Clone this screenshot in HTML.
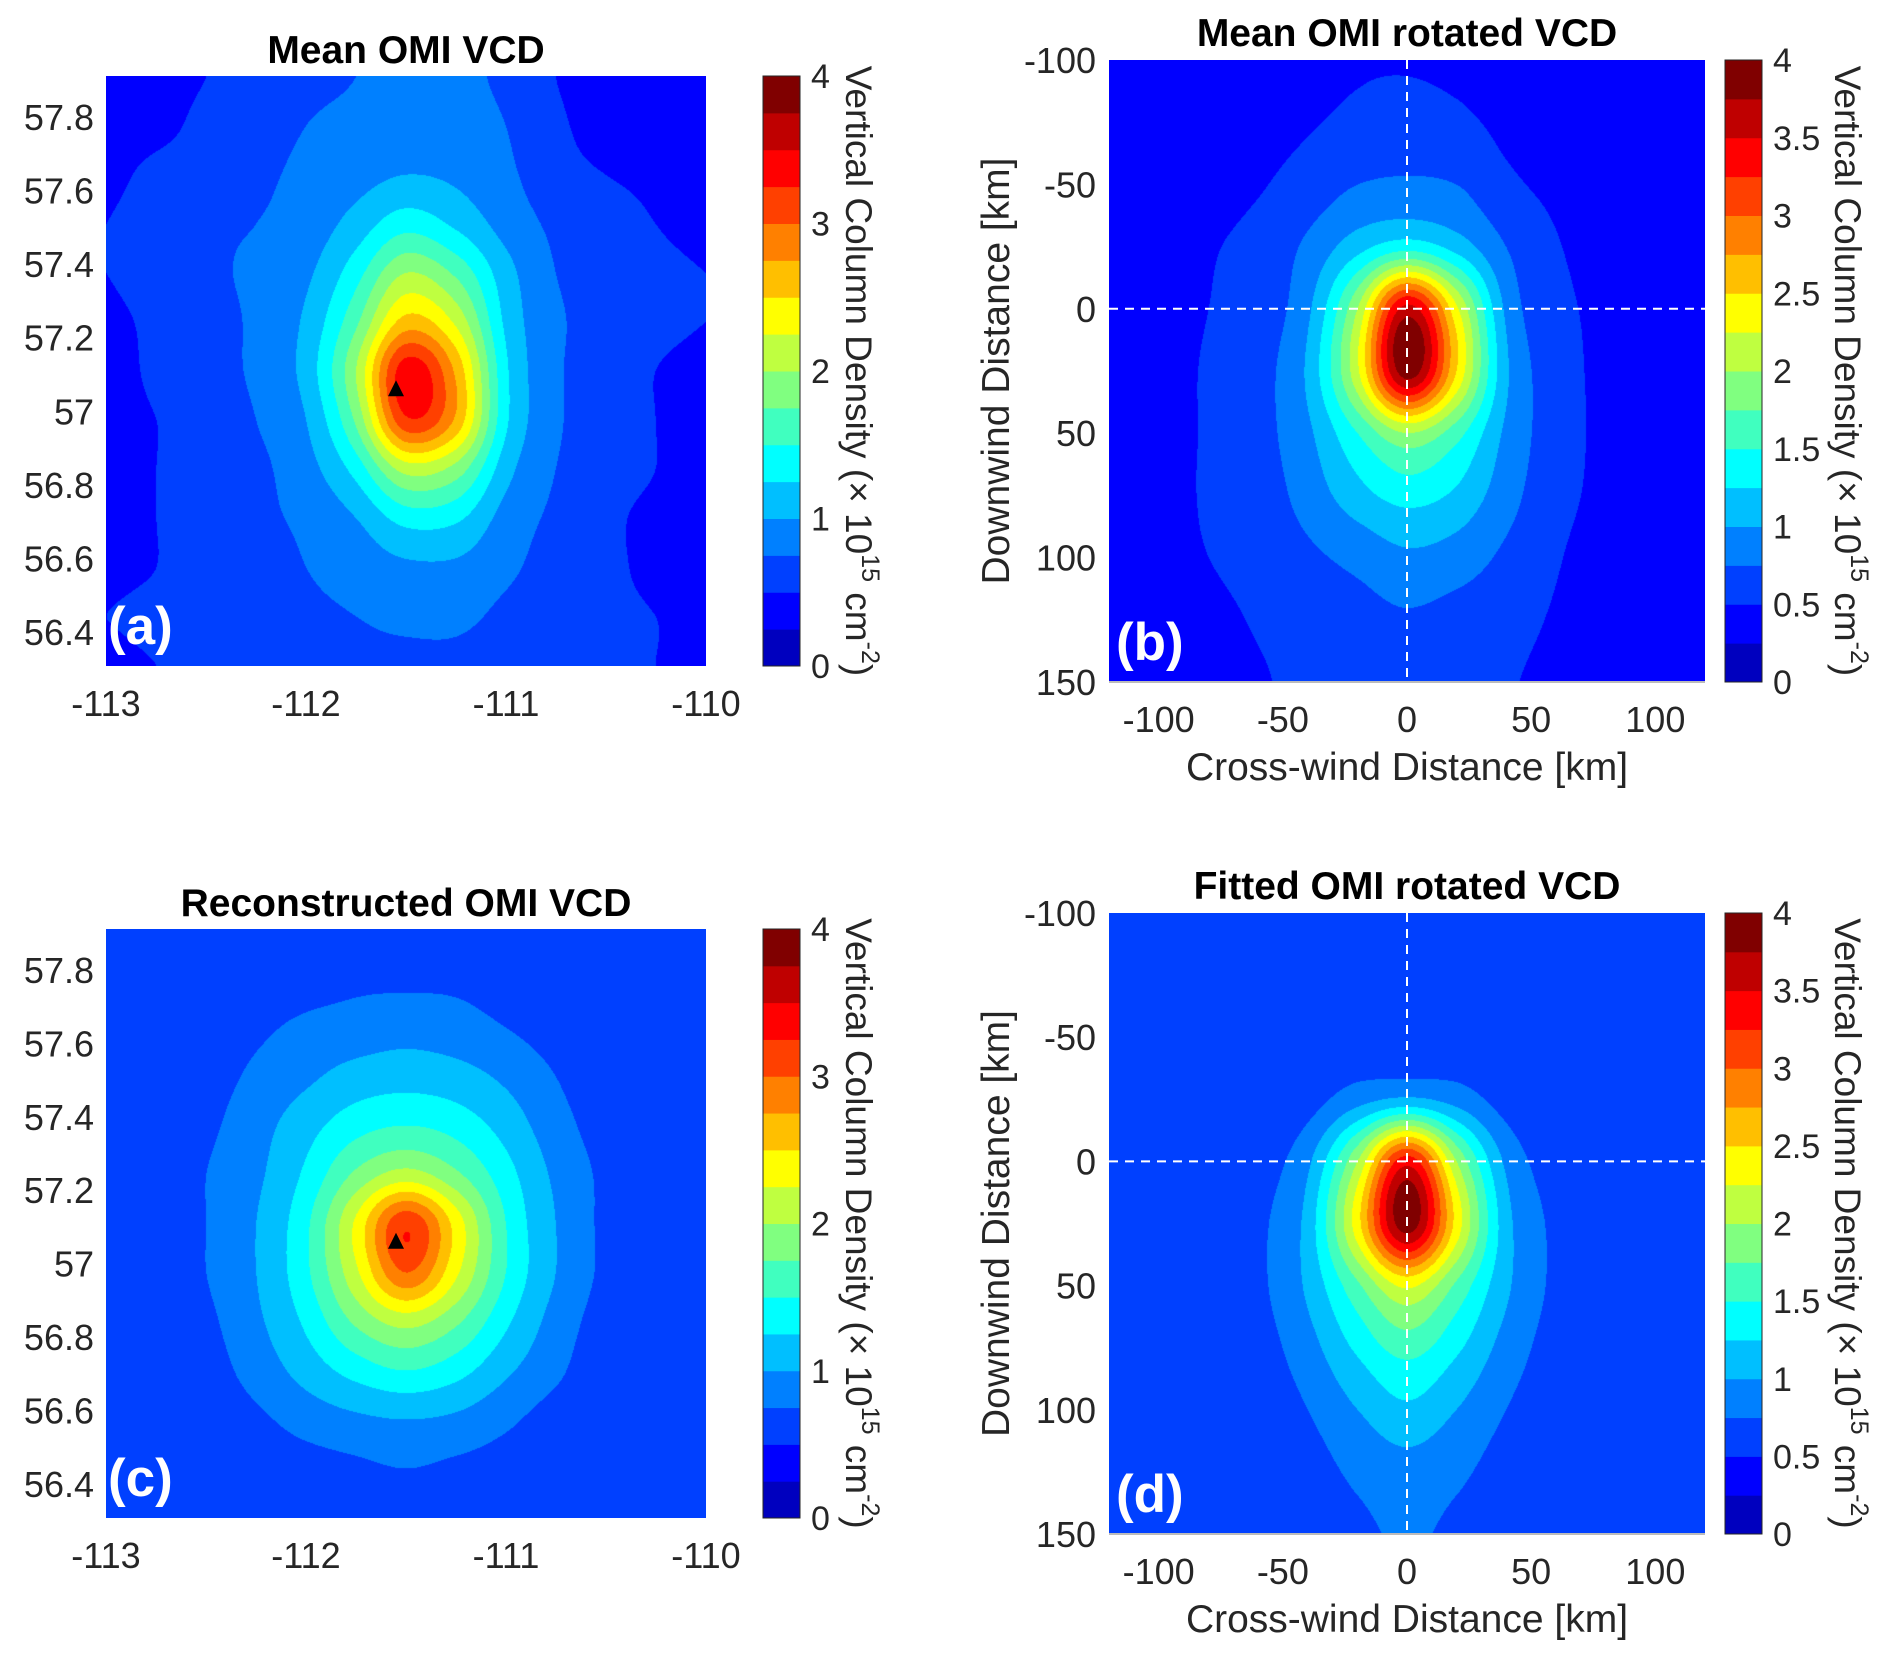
<!DOCTYPE html>
<html><head><meta charset="utf-8">
<style>
body{margin:0;background:#fff;}
#root{position:relative;width:1892px;height:1662px;overflow:hidden;font-family:"Liberation Sans",sans-serif;}
canvas{position:absolute;}
svg{position:absolute;left:0;top:0;}
</style></head>
<body>
<div id="root">
<canvas id="ca" width="600" height="590" style="left:106px;top:76px"></canvas>
<canvas id="cb" width="596" height="622" style="left:1109px;top:60px"></canvas>
<canvas id="cc" width="600" height="589" style="left:106px;top:929px"></canvas>
<canvas id="cd" width="596" height="621" style="left:1109px;top:913px"></canvas>
<svg id="ov" width="1892" height="1662"></svg>
</div>
<script>
// colour levels (jet 16), 0..4 step 0.25
const levelColors=["#0000bf","#0000ff","#0040ff","#0080ff","#00bfff","#00ffff","#40ffbf","#80ff80","#bfff40","#ffff00","#ffbf00","#ff8000","#ff4000","#ff0000","#bf0000","#800000"];
const cbTicksGeo=["0","1","2","3","4"];
const cbTicksRot=["0","0.5","1","1.5","2","2.5","3","3.5","4"];
const lonTicks=[-113,-112,-111,-110];
const latTicks=[57.8,57.6,57.4,57.2,57,56.8,56.6,56.4];
const kmXTicks=[-100,-50,0,50,100];
const kmYTicks=[-100,-50,0,50,100,150];
// panel a grid: rows lat 57.9 -> 56.3, cols lon -113 -> -110
const gridA=[
[0.4,0.45,0.5,0.6,0.7,0.75,0.8,0.8,0.7,0.5,0.4,0.4,0.4],
[0.4,0.45,0.55,0.65,0.75,0.8,0.85,0.85,0.75,0.55,0.4,0.4,0.4],
[0.45,0.55,0.6,0.7,0.8,0.9,1.0,0.95,0.8,0.6,0.5,0.45,0.4],
[0.5,0.6,0.7,0.75,0.85,1.1,1.4,1.2,0.9,0.7,0.6,0.5,0.45],
[0.5,0.6,0.7,0.8,0.95,1.4,2.0,1.7,1.1,0.75,0.65,0.55,0.5],
[0.45,0.55,0.65,0.8,1.05,1.7,2.6,2.2,1.2,0.8,0.65,0.55,0.5],
[0.4,0.55,0.65,0.8,1.1,2.0,3.4,2.7,1.3,0.8,0.6,0.5,0.45],
[0.4,0.5,0.6,0.75,1.0,1.8,3.2,2.7,1.3,0.8,0.6,0.5,0.4],
[0.4,0.5,0.6,0.7,0.9,1.35,2.1,1.9,1.1,0.75,0.6,0.5,0.4],
[0.4,0.5,0.6,0.7,0.8,1.0,1.35,1.3,0.9,0.7,0.55,0.45,0.4],
[0.45,0.5,0.6,0.65,0.75,0.85,0.95,0.95,0.8,0.65,0.55,0.45,0.4],
[0.5,0.55,0.6,0.65,0.7,0.75,0.8,0.8,0.7,0.6,0.55,0.5,0.45],
[0.45,0.5,0.55,0.6,0.65,0.7,0.7,0.7,0.65,0.6,0.55,0.5,0.45]];
const gridC=[
[0.6,0.6,0.6,0.6,0.6,0.6,0.6,0.6,0.6,0.6,0.6,0.6,0.6],
[0.6,0.6,0.6,0.6,0.65,0.7,0.7,0.7,0.65,0.6,0.6,0.6,0.6],
[0.6,0.6,0.6,0.7,0.8,0.85,0.9,0.85,0.75,0.65,0.6,0.6,0.6],
[0.6,0.6,0.65,0.8,0.95,1.1,1.15,1.1,0.95,0.75,0.6,0.6,0.6],
[0.6,0.6,0.7,0.9,1.15,1.4,1.5,1.4,1.15,0.85,0.65,0.6,0.6],
[0.6,0.6,0.75,0.95,1.3,1.8,2.1,1.8,1.35,0.95,0.7,0.6,0.6],
[0.6,0.6,0.75,1.0,1.45,2.3,3.2,2.4,1.5,1.0,0.7,0.6,0.6],
[0.6,0.6,0.75,1.0,1.45,2.2,3.0,2.3,1.5,1.0,0.7,0.6,0.6],
[0.6,0.6,0.7,0.95,1.3,1.8,2.1,1.8,1.3,0.9,0.65,0.6,0.6],
[0.6,0.6,0.65,0.85,1.1,1.35,1.5,1.35,1.05,0.8,0.6,0.6,0.6],
[0.6,0.6,0.6,0.7,0.85,0.95,1.0,0.95,0.8,0.65,0.6,0.6,0.6],
[0.6,0.6,0.6,0.6,0.65,0.7,0.75,0.7,0.65,0.6,0.6,0.6,0.6],
[0.6,0.6,0.6,0.6,0.6,0.6,0.6,0.6,0.6,0.6,0.6,0.6,0.6]];
// panel b/d grid: rows y -100 -> 150 (step 25), cols x -120 -> 120 (step 20)
const gridB=[
[0.4,0.4,0.4,0.4,0.45,0.48,0.48,0.45,0.4,0.4,0.4,0.4,0.4],
[0.4,0.4,0.4,0.42,0.48,0.55,0.6,0.55,0.45,0.4,0.4,0.4,0.4],
[0.4,0.4,0.42,0.48,0.6,0.75,0.8,0.75,0.55,0.45,0.4,0.4,0.4],
[0.4,0.42,0.48,0.58,0.8,1.15,1.4,1.15,0.75,0.52,0.42,0.4,0.4],
[0.4,0.45,0.5,0.62,0.95,2.0,3.6,2.3,0.95,0.58,0.45,0.4,0.4],
[0.4,0.45,0.52,0.66,1.05,2.2,3.9,2.5,1.05,0.62,0.45,0.4,0.4],
[0.4,0.45,0.52,0.66,0.95,1.5,2.0,1.6,0.95,0.62,0.45,0.4,0.4],
[0.42,0.45,0.52,0.62,0.85,1.15,1.35,1.2,0.85,0.58,0.45,0.4,0.4],
[0.42,0.45,0.5,0.58,0.7,0.82,0.95,0.88,0.7,0.52,0.42,0.4,0.4],
[0.4,0.42,0.45,0.52,0.6,0.66,0.72,0.66,0.58,0.48,0.42,0.4,0.4],
[0.4,0.4,0.42,0.48,0.55,0.6,0.65,0.6,0.52,0.45,0.4,0.4,0.4]];
const gridD=[
[0.6,0.6,0.6,0.6,0.6,0.6,0.6,0.6,0.6,0.6,0.6,0.6,0.6],
[0.6,0.6,0.6,0.6,0.6,0.6,0.6,0.6,0.6,0.6,0.6,0.6,0.6],
[0.6,0.6,0.6,0.6,0.6,0.6,0.62,0.6,0.6,0.6,0.6,0.6,0.6],
[0.6,0.6,0.6,0.6,0.65,0.9,1.05,0.9,0.65,0.6,0.6,0.6,0.6],
[0.6,0.6,0.6,0.65,0.95,2.0,3.4,2.0,0.95,0.65,0.6,0.6,0.6],
[0.6,0.6,0.6,0.7,1.1,2.4,3.9,2.4,1.1,0.7,0.6,0.6,0.6],
[0.6,0.6,0.6,0.7,1.05,1.7,2.3,1.7,1.05,0.7,0.6,0.6,0.6],
[0.6,0.6,0.6,0.65,0.9,1.3,1.6,1.3,0.9,0.65,0.6,0.6,0.6],
[0.6,0.6,0.6,0.6,0.75,1.0,1.2,1.0,0.75,0.6,0.6,0.6,0.6],
[0.6,0.6,0.6,0.6,0.65,0.8,0.9,0.8,0.65,0.6,0.6,0.6,0.6],
[0.6,0.6,0.6,0.6,0.6,0.7,0.78,0.7,0.6,0.6,0.6,0.6,0.6]];

function hex2rgb(h){return [parseInt(h.substr(1,2),16),parseInt(h.substr(3,2),16),parseInt(h.substr(5,2),16)];}
const lvRGB=levelColors.map(hex2rgb);
function cr(p0,p1,p2,p3,t){return 0.5*((2*p1)+(-p0+p2)*t+(2*p0-5*p1+4*p2-p3)*t*t+(-p0+3*p1-3*p2+p3)*t*t*t);}
function sample(g,fx,fy){
  const R=g.length,C=g[0].length;
  const gx=fx*(C-1),gy=fy*(R-1);
  const ix=Math.floor(gx),iy=Math.floor(gy),tx=gx-ix,ty=gy-iy;
  const at=(r,c)=>g[Math.max(0,Math.min(R-1,r))][Math.max(0,Math.min(C-1,c))];
  const rows=[];
  for(let k=-1;k<=2;k++){rows.push(cr(at(iy+k,ix-1),at(iy+k,ix),at(iy+k,ix+1),at(iy+k,ix+2),tx));}
  return cr(rows[0],rows[1],rows[2],rows[3],ty);
}
function drawHeat(id,g){
  const cv=document.getElementById(id),ctx=cv.getContext('2d');
  const W=cv.width,H=cv.height,img=ctx.createImageData(W,H);
  for(let y=0;y<H;y++)for(let x=0;x<W;x++){
    const v=sample(g,x/(W-1),y/(H-1));
    let li=Math.floor(v/0.25);li=Math.max(0,Math.min(15,li));
    const c=lvRGB[li],o=(y*W+x)*4;
    img.data[o]=c[0];img.data[o+1]=c[1];img.data[o+2]=c[2];img.data[o+3]=255;
  }
  ctx.putImageData(img,0,0);
}
drawHeat('ca',gridA);drawHeat('cb',gridB);drawHeat('cc',gridC);drawHeat('cd',gridD);

const NS="http://www.w3.org/2000/svg",ov=document.getElementById('ov');
function el(tag,attrs,parent){const e=document.createElementNS(NS,tag);for(const k in attrs)e.setAttribute(k,attrs[k]);(parent||ov).appendChild(e);return e;}
function txt(s,x,y,size,anchor,extra){const t=el('text',Object.assign({x:x,y:y,'font-size':size,'text-anchor':anchor||'middle',fill:'#262626','font-family':'Liberation Sans, sans-serif'},extra||{}));t.textContent=s;return t;}

function colorbar(x,top,bot,ticks,tag,labOff){
  const w=37,n=levelColors.length,h=(bot-top)/n;
  levelColors.forEach((c,i)=>{
    const r=el('rect',{x:x,y:bot-(i+1)*h,width:w,height:h+0.5,fill:c});
    
    
  });
  el('rect',{x:x,y:top,width:w,height:bot-top,fill:'none',stroke:'#262626','stroke-width':1});
  ticks.forEach((t,i)=>{
    const y=bot-(bot-top)*i/(ticks.length-1);
    const tt=txt(t,x+w+11,y+12,34,'start');
    
    
  });
  const lx=x+w+labOff,ly=(top+bot)/2;
  const lab=el('text',{x:0,y:0,'font-size':37,'text-anchor':'middle',fill:'#262626',transform:'translate('+lx+','+ly+') rotate(90)'});
  
  
  lab.innerHTML='Vertical Column Density (× 10<tspan dy="-16" font-size="25">15</tspan><tspan dy="16"> cm</tspan><tspan dy="-16" font-size="25">-2</tspan><tspan dy="16">)</tspan>';
}

function geoPanel(top,bot,title,letter,tag){
  const L=106,R=706;
  const latTop=57.911,latBot=56.308;
  const ys=v=>top+(latTop-v)/(latTop-latBot)*(bot-top);
  const xs=v=>L+(v+113)/3*(R-L);
  const t=txt(title,(L+R)/2,top-13,39,'middle',{'font-weight':'bold',fill:'#000'});
  
  latTicks.forEach(v=>{const e=txt(String(v),94,ys(v)+13,36,'end');});
  lonTicks.forEach(v=>{const e=txt(String(v),xs(v),bot+50,36,'middle');});
  const px=xs(-111.55),py=ys(57.06);
  const tri=el('polygon',{points:(px-8)+','+(py+7)+' '+(px+8)+','+(py+7)+' '+px+','+(py-9),fill:'#000'});
  
  const pl=txt(letter,108,bot-22,53,'start',{'font-weight':'bold',fill:'#fff'});
  
  colorbar(763,top,bot,cbTicksGeo,tag,46);
}
function rotPanel(top,bot,title,letter,tag){
  const L=1109,R=1705;
  const xs=v=>L+(v+120)/240*(R-L);
  const ys=v=>top+(v+100)/250*(bot-top);
  const t=txt(title,(L+R)/2,top-14,39,'middle',{'font-weight':'bold',fill:'#000'});
  
  el('line',{x1:xs(0),x2:xs(0),y1:top,y2:bot,stroke:'#fff','stroke-width':2,'stroke-dasharray':'9,7'});
  el('line',{x1:L,x2:R,y1:ys(0),y2:ys(0),stroke:'#fff','stroke-width':2,'stroke-dasharray':'9,7'});
  el('line',{x1:L,x2:R,y1:bot,y2:bot,stroke:'#bbb','stroke-width':2});
  kmYTicks.forEach(v=>{const e=txt(String(v),1096,ys(v)+13,36,'end');});
  kmXTicks.forEach(v=>{const e=txt(String(v),xs(v),bot+50,36,'middle');});
  const xl=txt('Cross-wind Distance [km]',(L+R)/2,bot+98,39,'middle');
  
  const yl=el('text',{x:0,y:0,'font-size':39,'text-anchor':'middle',fill:'#262626',transform:'translate(1009,'+((top+bot)/2)+') rotate(-90)'});
  yl.textContent='Downwind Distance [km]';
  
  const pl=txt(letter,1116,bot-22,53,'start',{'font-weight':'bold',fill:'#fff'});
  
  colorbar(1725,top,bot,cbTicksRot,tag,73);
}
geoPanel(76,666,'Mean OMI VCD','(a)','a');
rotPanel(60,682,'Mean OMI rotated VCD','(b)','b');
geoPanel(929,1518,'Reconstructed OMI VCD','(c)','c');
rotPanel(913,1534,'Fitted OMI rotated VCD','(d)','d');
</script>
</body></html>
